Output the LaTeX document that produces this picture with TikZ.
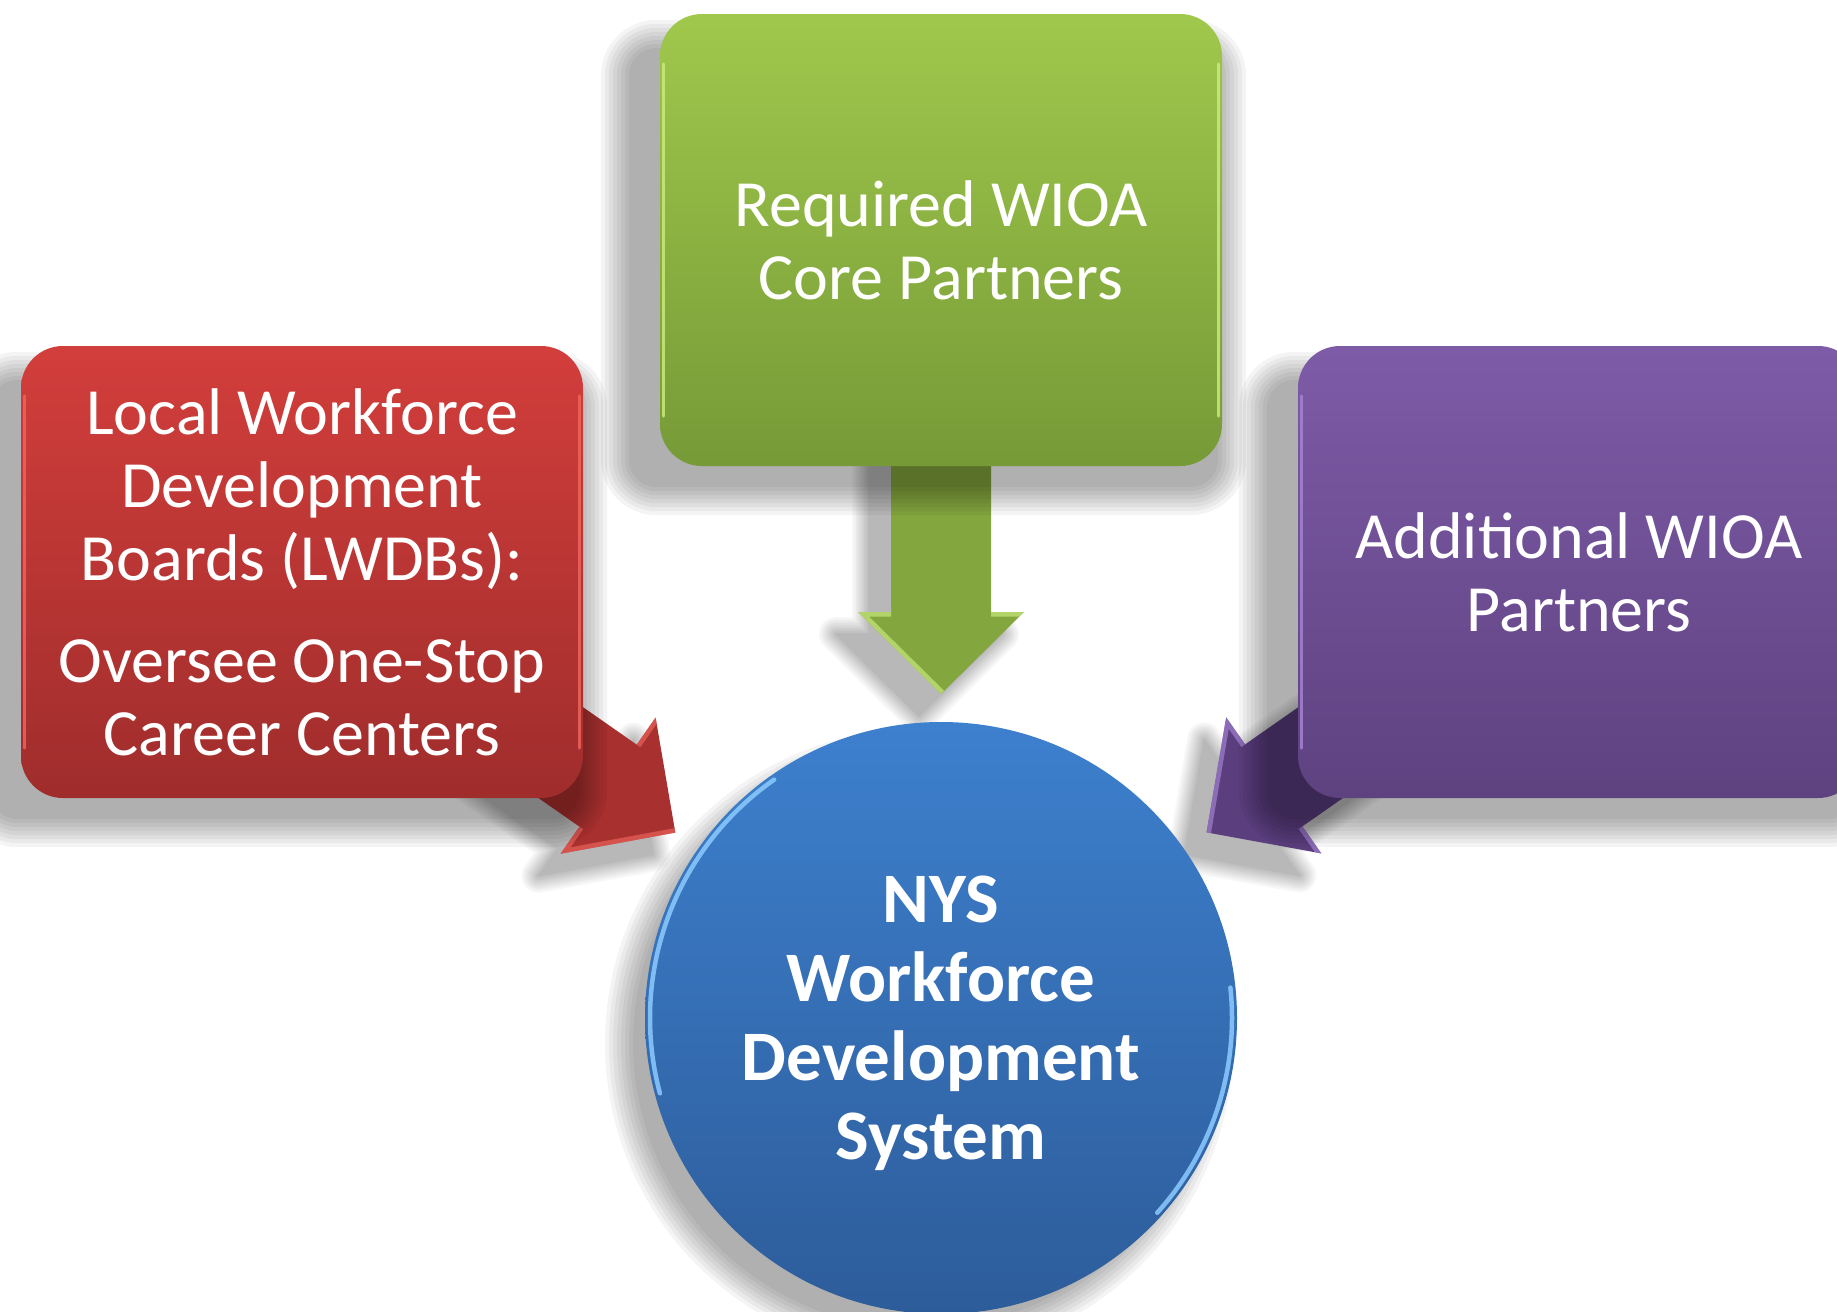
\documentclass[tikz,border=0pt]{standalone}
\usepackage{fontspec}
\setmainfont{Carlito}
\usetikzlibrary{calc}
\definecolor{gTop}{HTML}{A0C84C}
\definecolor{gBot}{HTML}{769A37}
\definecolor{rTop}{HTML}{D23E3B}
\definecolor{rBot}{HTML}{9F2D2C}
\definecolor{pTop}{HTML}{7E5BA7}
\definecolor{pBot}{HTML}{5E4280}
\definecolor{bTop}{HTML}{3D80CE}
\definecolor{bBot}{HTML}{2D5C9A}
\definecolor{gArr}{HTML}{84A63F}
\definecolor{rArr}{HTML}{A8302E}
\definecolor{pArr}{HTML}{5A3E7E}
\definecolor{gHi}{HTML}{CBEE7E}
\definecolor{rHi}{HTML}{F0675E}
\definecolor{pHi}{HTML}{A885D6}
\definecolor{bHi}{HTML}{8CCBFF}
\pgfdeclarelayer{back}
\pgfdeclarelayer{arr}
\pgfdeclarelayer{shad}
\pgfsetlayers{back,arr,shad,main}
\tikzset{
  panel/.style={rectangle, rounded corners=42pt, minimum width=562pt, minimum height=452pt,
      inner sep=0pt, text=white, align=center, font=\fontsize{66}{73}\selectfont},
  hub/.style={circle, minimum size=592pt, inner sep=0pt, text=white, align=center,
      text depth=0pt, font=\bfseries\fontsize{71}{79}\selectfont},
  rim/.style={line width=3pt, line cap=round, opacity=.8},
  hubrim/.style={line width=4.5pt, line cap=round, opacity=.85, bHi},
}
% points of a block arrow from node #1 towards node #2
\newcommand\wfarrowpts[2]{%
  \coordinate (#1-tip)  at ($(#2.center)!324pt!(#1.center)$);
  \coordinate (#1-base) at ($(#2.center)!406pt!(#1.center)$);
  \coordinate (#1-s1) at ($(#1.center)!50pt!90:(#2.center)$);
  \coordinate (#1-b1) at ($(#1-base)!50pt!90:(#2.center)$);
  \coordinate (#1-h1) at ($(#1-base)!83pt!90:(#2.center)$);
  \coordinate (#1-h2) at ($(#1-base)!83pt!-90:(#2.center)$);
  \coordinate (#1-b2) at ($(#1-base)!50pt!-90:(#2.center)$);
  \coordinate (#1-s2) at ($(#1.center)!50pt!-90:(#2.center)$);
}
\newcommand\wfpath[1]{(#1-s1) -- (#1-b1) -- (#1-h1) -- (#1-tip) -- (#1-h2) -- (#1-b2) -- (#1-s2) -- cycle}
\newcommand\arrowshadow[1]{%
  \begin{scope}[transform canvas={xshift=-22pt,yshift=-22pt}]
    \foreach \i in {1,...,9}{%
      \pgfmathtruncatemacro\ww{38-4*\i}\pgfmathtruncatemacro\cc{3*\i}%
      \draw[line width=\ww pt, line join=round, color=black!\cc] \wfpath{#1};}
    \fill[black!28] \wfpath{#1};
  \end{scope}}
\newcommand\arrowbevel[2]{%
  \begin{scope}
    \clip \wfpath{#1};
    \draw[line width=9pt, #2, line join=round, opacity=.65]
      (#1-b1) -- (#1-h1) (#1-b2) -- (#1-h2) -- (#1-tip);
  \end{scope}}
\newcommand\panelshadow[1]{%
  \foreach \g in {-14,-10,...,14}{%
    \pgfmathsetmacro\rr{max(42+\g,8)}%
    \fill[black, opacity=0.045, rounded corners=\rr pt]
      ([shift={(-45-\g,35+\g)}]#1.south west) rectangle ([shift={(10+\g,20-\g)}]#1.north east);
  }}
\newcommand\panelrim[2]{%
  \draw[rim, #2] ([shift={(4,50)}]#1.north west) -- ([shift={(4,-50)}]#1.south west);
  \draw[rim, #2] ([shift={(-4,50)}]#1.north east) -- ([shift={(-4,-50)}]#1.south east);
}
\begin{document}
\begin{tikzpicture}[x=1pt,y=-1pt]
\begin{pgfonlayer}{back}
  \fill[white] (0,0) rectangle (1837,1312);
\end{pgfonlayer}
\useasboundingbox (0,0) rectangle (1837,1312);

\node[panel, top color=gTop, bottom color=gBot] (core) at (941,240)
  {Required WIOA\\Core Partners};
\node[panel, top color=rTop, bottom color=rBot] (lwdb) at (302,572)
  {Local Workforce\\Development\\Boards (LWDBs):\\[29pt]Oversee One-Stop\\Career Centers};
\node[panel, top color=pTop, bottom color=pBot] (addl) at (1579,572)
  {Additional WIOA\\Partners};
\node[hub, top color=bTop, bottom color=bBot] (hub) at (941,1018)
  {NYS\\Workforce\\Development\\System};

\panelrim{core}{gHi}
\panelrim{lwdb}{rHi}
\panelrim{addl}{pHi}
\draw[hubrim] ($(hub.center)+(-125:291)$) arc[start angle=-125, end angle=-195, radius=291];
\draw[hubrim] ($(hub.center)+(-6:291)$) arc[start angle=-6, end angle=42, radius=291];

\begin{pgfonlayer}{shad}
  \panelshadow{core}
  \panelshadow{lwdb}
  \panelshadow{addl}
  \foreach \g in {-14,-10,...,14}{%
    \fill[black, opacity=0.045] ([shift={(-22,25)}]hub.center) circle[radius={300+\g}];}
\end{pgfonlayer}

\begin{pgfonlayer}{arr}
  \wfarrowpts{core}{hub}
  \wfarrowpts{lwdb}{hub}
  \wfarrowpts{addl}{hub}
  \arrowshadow{core}
  \arrowshadow{lwdb}
  \arrowshadow{addl}
  \fill[gArr] \wfpath{core};
  \fill[rArr] \wfpath{lwdb};
  \fill[pArr] \wfpath{addl};
  \arrowbevel{core}{gHi}
  \arrowbevel{lwdb}{rHi}
  \arrowbevel{addl}{pHi}
\end{pgfonlayer}
\end{tikzpicture}
\end{document}
